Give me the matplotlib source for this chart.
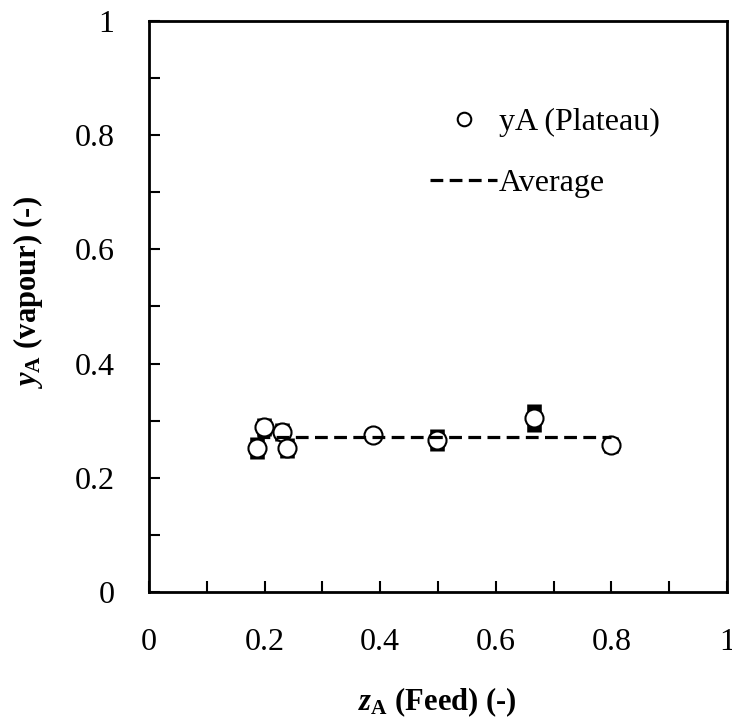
import numpy as np
import matplotlib
matplotlib.use("Agg")
import matplotlib.pyplot as plt
from matplotlib.ticker import MultipleLocator

plt.rcParams['font.family'] = 'Liberation Serif'
plt.rcParams['mathtext.fontset'] = 'custom'
plt.rcParams['mathtext.rm'] = 'Liberation Serif'
plt.rcParams['mathtext.it'] = 'Liberation Serif:italic'
plt.rcParams['mathtext.bf'] = 'Liberation Serif:bold'
plt.rcParams['mathtext.bfit'] = 'Liberation Serif:bold:italic'

# feed composition and plateau vapour composition
z_A = [0.187, 0.199, 0.230, 0.239, 0.388, 0.498, 0.666, 0.799]
y_A = [0.252, 0.289, 0.280, 0.252, 0.275, 0.266, 0.305, 0.257]
y_err = [0.019, 0.016, 0.016, 0.018, 0.004, 0.019, 0.024, 0.014]
avg_x = [0.187, 0.799]
avg_y = np.mean(y_A)

ticksize = 23
labelsize = 22
legendsize = 23

fig = plt.figure(figsize=(7.32, 7.22), dpi=100)
ax = fig.add_axes([149/732, 1-592/722, 578/732, 571/722])

ax.errorbar(z_A, y_A, yerr=y_err, fmt='none', ecolor='black', elinewidth=10.5, capsize=0, zorder=2)
ax.plot(z_A, y_A, 'o', mfc='white', mec='black', mew=1.5, ms=13, zorder=3, label='yA (Plateau)')
ax.plot(avg_x, [avg_y, avg_y], '--', color='black', lw=2.3, dashes=(4, 2), zorder=4, label='Average')

ax.set_xlim(0, 1)
ax.set_ylim(0, 1)
ax.xaxis.set_minor_locator(MultipleLocator(0.1))
ax.yaxis.set_minor_locator(MultipleLocator(0.1))
ax.set_xticks([0, 0.2, 0.4, 0.6, 0.8, 1])
ax.set_xticklabels(['0', '0.2', '0.4', '0.6', '0.8', '1'])
ax.set_yticks([0, 0.2, 0.4, 0.6, 0.8, 1])
ax.set_yticklabels(['0', '0.2', '0.4', '0.6', '0.8', '1'])
ax.tick_params(which='both', direction='in', length=8, width=1.5, labelsize=ticksize)
ax.tick_params(axis='x', pad=26)
ax.tick_params(axis='y', pad=25)
for s in ax.spines.values():
    s.set_linewidth(2)

fig.text(437/732, 1-702/722, r'$\mathbfit{z}_{\mathbf{A}}$ (Feed) (-)', fontsize=labelsize,
         fontweight='bold', ha='center', va='center')
fig.text(28/732, 1-293/722, r'$\mathbfit{y}_{\mathbf{A}}$ (vapour) (-)', fontsize=labelsize,
         fontweight='bold', ha='center', va='center', rotation=90)

fig.legend(loc='upper left', bbox_to_anchor=(430/732, 1-108/722), frameon=False, fontsize=legendsize,
           handlelength=2.1, handletextpad=0.05, labelspacing=0.97, markerscale=0.75,
           borderpad=0, borderaxespad=0)

fig.savefig('out.png', dpi=100)
